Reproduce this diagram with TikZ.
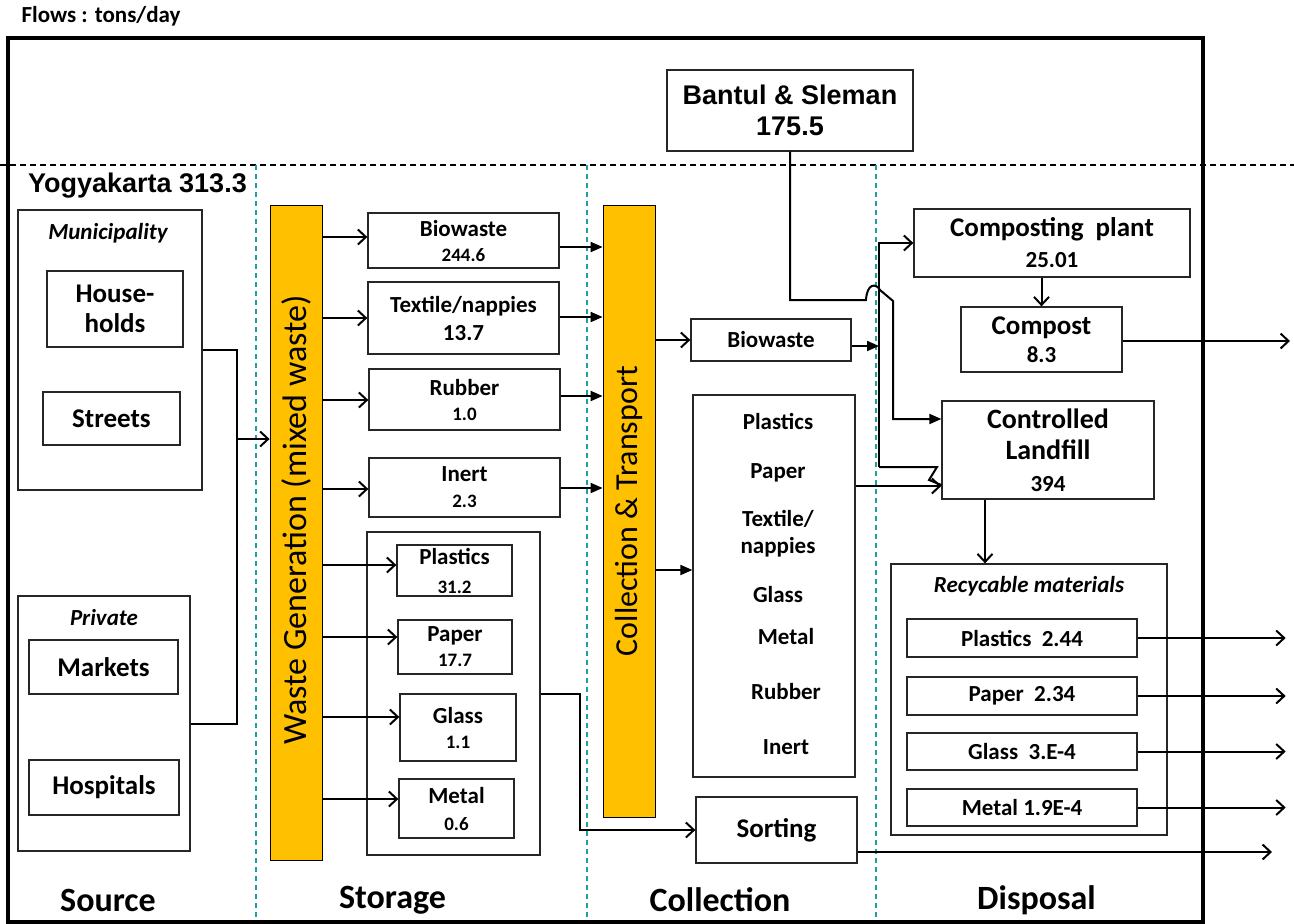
\documentclass[tikz,border=0pt]{standalone}
\usepackage{fontspec}
\setmainfont{Carlito}
\newfontfamily\arialfont{Liberation Sans}
\usetikzlibrary{arrows.meta,calc}
\definecolor{barfill}{HTML}{FFC000}
\definecolor{tealdash}{RGB}{30,160,160}
\begin{document}
\begin{tikzpicture}[x=1pt,y=-1pt,
  box/.style={draw=black!85, line width=1.3pt, inner sep=0pt, align=center, font=\bfseries\fontsize{23}{25}\selectfont},
  lbl/.style={inner sep=0pt, align=center, font=\bfseries\fontsize{23}{25}\selectfont},
  stage/.style={inner sep=0pt, font=\bfseries\fontsize{34}{34}\selectfont},
  conn/.style={line width=2pt},
  oarr/.style={conn, -{Straight Barb[length=8pt,width=15pt]}},
  farr/.style={conn, -{Triangle[length=12pt,width=10pt]}},
  bar/.style={draw=black, line width=0.8pt, fill=barfill, inner sep=0pt}
]
\useasboundingbox (0,0) rectangle (1294,924);

% dashed separators
\draw[line width=1.2pt, dash pattern=on 6pt off 4pt] (0,165) -- (1294,165);
\foreach \xx in {256,587,876} {
  \draw[tealdash, line width=1.6pt, dash pattern=on 5pt off 4pt] (\xx,165) -- (\xx,924);
}
% frame
\draw[line width=4pt] (8,38) rectangle (1203,922);

% titles
\node[inner sep=0pt, font=\bfseries\fontsize{23}{23}\selectfont] (flows) at (101,16) {Flows : tons/day};
\node[inner sep=0pt, font=\arialfont\bfseries\fontsize{27}{27}\selectfont] (yog) at (137.5,186) {Yogyakarta 313.3};
\node[box, minimum width=246pt, minimum height=81pt, font=\arialfont\bfseries\fontsize{27}{31}\selectfont] (bantul) at (790,110.5) {Bantul \& Sleman\\175.5};

% stage labels
\node[stage] (st1) at (108,900) {Source};
\node[stage] (st2) at (392.5,900) {Storage};
\node[stage] (st3) at (720,900) {Collection};
\node[stage] (st4) at (1036.5,900) {Disposal};

% source
\node[box, minimum width=184pt, minimum height=280pt] (muni) at (110,350) {};
\node[lbl, font=\bfseries\itshape\fontsize{23}{25}\selectfont] (munit) at (108,233) {Municipality};
\node[box, minimum width=136pt, minimum height=76pt, font=\bfseries\fontsize{27}{30}\selectfont] (house) at (115,309) {House-\\holds};
\node[box, minimum width=137pt, minimum height=53pt, font=\bfseries\fontsize{27}{30}\selectfont] (street) at (111.5,418.5) {Streets};
\node[box, minimum width=172pt, minimum height=255pt] (priv) at (104,723.5) {};
\node[lbl, font=\bfseries\itshape\fontsize{23}{25}\selectfont] (privt) at (104,618) {Private};
\node[box, minimum width=149pt, minimum height=54pt, font=\bfseries\fontsize{27}{30}\selectfont] (market) at (103.5,667) {Markets};
\node[box, minimum width=150pt, minimum height=55pt, font=\bfseries\fontsize{27}{30}\selectfont] (hosp) at (104,787.5) {Hospitals};

% bars
\node[bar, minimum width=52pt, minimum height=655pt] (wg) at (296,532.5) {};
\node[rotate=90, inner sep=0pt, font=\fontsize{34}{34}\selectfont] (wgt) at (296,520) {Waste Generation (mixed waste)};
\node[bar, minimum width=52pt, minimum height=612pt] (cb) at (629,511) {};
\node[rotate=90, inner sep=0pt, font=\fontsize{32}{32}\selectfont] (cbt) at (629,511) {Collection \& Transport};

% storage
\node[box, minimum width=191pt, minimum height=55pt] (sbio) at (463.5,240.5) {Biowaste\\{\fontsize{19}{25}\selectfont 244.6}};
\node[box, minimum width=191pt, minimum height=72pt, font=\bfseries\fontsize{23}{28}\selectfont] (stex) at (463.5,318) {Textile/nappies\\13.7};
\node[box, minimum width=191pt, minimum height=61pt] (srub) at (464.5,399.5) {Rubber\\{\fontsize{19}{25}\selectfont 1.0}};
\node[box, minimum width=191pt, minimum height=59pt, font=\bfseries\fontsize{23}{26}\selectfont] (siner) at (464.5,487.5) {Inert\\{\fontsize{19}{26}\selectfont 2.3}};
\node[box, minimum width=173pt, minimum height=323pt] (cont) at (453.5,693.5) {};
\node[box, minimum width=115pt, minimum height=51pt, font=\bfseries\fontsize{23}{29}\selectfont] (spla) at (454.5,570.5) {Plastics\\{\fontsize{19}{29}\selectfont 31.2}};
\node[box, minimum width=114pt, minimum height=54pt] (spap) at (455,647) {Paper\\{\fontsize{19}{25}\selectfont 17.7}};
\node[box, minimum width=116pt, minimum height=67pt] (sgla) at (458,727.5) {Glass\\{\fontsize{19}{25}\selectfont 1.1}};
\node[box, minimum width=115pt, minimum height=59pt, font=\bfseries\fontsize{23}{27}\selectfont] (smet) at (456.5,808.5) {Metal\\{\fontsize{19}{27}\selectfont 0.6}};

% collection
\node[box, minimum width=160pt, minimum height=42pt] (cbio) at (771,340) {Biowaste};
\node[box, minimum width=162pt, minimum height=382pt] (clist) at (774,586) {};
\node[lbl] (lpla) at (778,421) {Plastics};
\node[lbl] (lpap) at (778,473) {Paper};
\node[lbl, font=\bfseries\fontsize{23}{27}\selectfont] (ltex) at (778,533.5) {Textile/\\nappies};
\node[lbl] (lgla) at (778,595) {Glass};
\node[lbl] (lmet) at (786,637) {Metal};
\node[lbl] (lrub) at (786,692) {Rubber};
\node[lbl] (lin) at (786,747) {Inert};
\node[box, minimum width=161pt, minimum height=66pt, font=\bfseries\fontsize{27}{30}\selectfont] (sort) at (776.5,830) {Sorting};

% disposal
\node[box, minimum width=276pt, minimum height=68pt, font=\bfseries\fontsize{27}{31}\selectfont] (comp) at (1052,243) {Composting~~plant\\{\fontsize{23}{31}\selectfont 25.01}};
\node[box, minimum width=161pt, minimum height=65pt, font=\bfseries\fontsize{27}{28}\selectfont] (compost) at (1041.5,339.5) {Compost\\{\fontsize{23}{28}\selectfont 8.3}};
\node[box, minimum width=212pt, minimum height=98pt, font=\bfseries\fontsize{28}{31.5}\selectfont] (land) at (1048,450) {Controlled\\Landfill\\{\fontsize{23}{31.5}\selectfont 394}};
\node[box, minimum width=276pt, minimum height=271pt] (recyc) at (1029,699.5) {};
\node[lbl, font=\bfseries\itshape\fontsize{23}{25}\selectfont] (recyct) at (1029,586) {Recycable materials};
\node[box, minimum width=230pt, minimum height=38pt] (rpla) at (1022,638) {Plastics~~2.44};
\node[box, minimum width=230pt, minimum height=38pt] (rpap) at (1022,696) {Paper~~2.34};
\node[box, minimum width=230pt, minimum height=37pt] (rgla) at (1022,751.5) {Glass~~3.E-4};
\node[box, minimum width=230pt, minimum height=37pt] (rmet) at (1022,807.5) {Metal 1.9E-4};

% ---- connectors ----
\coordinate (jn) at (237,439);
\draw[conn] (muni.east) -| (jn) |- (priv.east);
\draw[oarr] (jn) -- (wg.west |- jn);

\foreach \n/\s in {sbio/3.5, stex/0, srub/-0.5, siner/-1.5, spla/5.5, spap/10, sgla/10.5, smet/9.5} {
  \coordinate (t) at ([yshift=\s pt]\n.west);
  \draw[oarr] (wg.east |- t) -- (t);
}
\foreach \n/\s in {sbio/-6.5, stex/1, srub/3.5, siner/-0.5} {
  \coordinate (t) at ([yshift=\s pt]\n.east);
  \draw[farr] (t) -- (cb.west |- t);
}
\draw[oarr] (cb.east |- cbio.west) -- (cbio.west);
\coordinate (tl) at ([yshift=16pt]clist.west);
\draw[farr] (cb.east |- tl) -- (tl);

\coordinate (ct) at (580,830);
\draw[oarr] (cont.east) -| (ct) -- (sort.west);
\coordinate (sortout) at (1272,852);
\draw[oarr] (sortout -| sort.east) -- (sortout);

\coordinate (vj) at (879,346);
\draw[farr] (cbio.east |- vj) -- (vj);
\coordinate (vtop) at (879,243);
\coordinate (vbot) at (879,467);
\draw[oarr] (vbot) -- (vtop) -- (comp.west);
\coordinate (z1) at (937,467);
\coordinate (z2) at (929,480);
\coordinate (z3) at ([yshift=-35pt]land.west);
\draw[conn] (vbot) -- (z1) -- (z2) -- (z3);

\coordinate (b1) at (790,300);
\coordinate (b2) at (866,300);
\coordinate (b3) at (880,290);
\coordinate (b4) at (893,301);
\coordinate (b5) at (893,419);
\draw[farr] (bantul.south) -- (b1) -- (b2) .. controls (867,283) and (876,283) .. (b3) -- (b4) -- (b5) -- (land.west |- b5);

\draw[oarr] (comp.south -| compost.north) -- (compost.north);
\coordinate (cout) at (1290,341);
\draw[oarr] (compost.east |- cout) -- (cout);

\coordinate (tland) at ([yshift=-36pt]land.west);
\draw[oarr] (clist.east |- tland) -- (tland);

\coordinate (lr) at ([xshift=-63pt]land.south);
\draw[oarr] (lr) -- (recyc.north -| lr);

\foreach \n in {rpla,rpap,rgla,rmet} {
  \coordinate (\n out) at ([xshift=148pt]\n.east);
  \draw[oarr] (\n.east) -- (\n out);
}
\end{tikzpicture}
\end{document}
